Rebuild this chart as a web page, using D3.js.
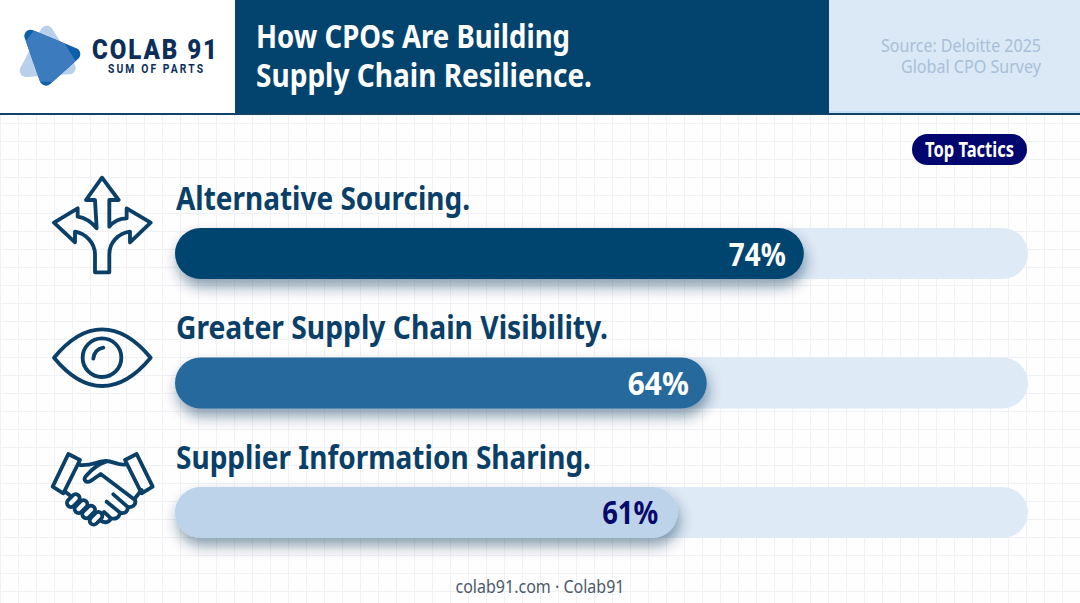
<!DOCTYPE html>
<html><head><meta charset="utf-8">
<script src="https://cdn.jsdelivr.net/npm/d3@7/dist/d3.min.js"></script>
<style>html,body{margin:0;padding:0;background:#fff}svg{display:block}text{font-family:"Noto Sans",sans-serif}</style>
</head><body><div id="c"></div>
<script>
const categories=["Alternative Sourcing.","Greater Supply Chain Visibility.","Supplier Information Sharing."];
const values=[74,64,61];
const valueLabels=["74%","64%","61%"];
const barColors=["#03446f","#266a9d","#bcd3ea"];
const labelColors=["#ffffff","#ffffff","#07096b"];
const titleLines=["How CPOs Are Building","Supply Chain Resilience."];
const sourceLines=["Source: Deloitte 2025","Global CPO Survey"];
const domainStart=9.2, domainEnd=97.1;

const W=1080,H=603;
const svg=d3.select("#c").append("svg").attr("width",W).attr("height",H).attr("viewBox",`0 0 ${W} ${H}`);
const defs=svg.append("defs");
const sh=defs.append("filter").attr("id","sh").attr("x","-10%").attr("y","-50%").attr("width","120%").attr("height","220%");
sh.append("feDropShadow").attr("dx",2).attr("dy",8).attr("stdDeviation",7).attr("flood-color","#0b2f55").attr("flood-opacity",0.45);

// background + grid
svg.append("rect").attr("width",W).attr("height",H).attr("fill","#fefefe");
const grid=svg.append("g").attr("stroke","#f0f1f4").attr("stroke-width",1);
d3.range(0,W,18).forEach(x=>grid.append("line").attr("x1",x+.5).attr("x2",x+.5).attr("y1",115).attr("y2",H));
d3.range(123,H,18).forEach(y=>grid.append("line").attr("y1",y+.5).attr("y2",y+.5).attr("x1",0).attr("x2",W));

// header
svg.append("rect").attr("width",235).attr("height",113).attr("fill","#fff");
svg.append("rect").attr("x",235).attr("width",594).attr("height",113).attr("fill","#03446f");
svg.append("rect").attr("x",829).attr("width",251).attr("height",113).attr("fill","#dbe8f6");
svg.append("rect").attr("x",829).attr("y",111).attr("width",251).attr("height",2).attr("fill","#c4e0f5");
svg.append("rect").attr("y",113).attr("width",W).attr("height",2).attr("fill","#0f4468");

// logo
const logo=svg.append("g").attr("transform","scale(0.3333)");
logo.append("path").attr("d","M140 96L78 212L208 204Z").attr("fill","#b9d0ea").attr("stroke","#b9d0ea").attr("stroke-width",38).attr("stroke-linejoin","round");
const main="M92 108L222 162L138 238Z";
const lsw=38;
const mask=defs.append("mask").attr("id","lm").attr("maskUnits","userSpaceOnUse").attr("x",0).attr("y",0).attr("width",400).attr("height",400);
mask.append("path").attr("d",main).attr("fill","#fff").attr("stroke","#fff").attr("stroke-width",lsw).attr("stroke-linejoin","round");
logo.append("path").attr("d",main).attr("fill","#0d60a8").attr("stroke","#0d60a8").attr("stroke-width",lsw).attr("stroke-linejoin","round");
logo.append("path").attr("d","M108 84L178 104L228 185L165 245L112 245L78 122Z").attr("fill","#3c7cbe").attr("mask","url(#lm)");
const sx=0.86;
svg.append("text").attr("transform",`translate(92,59) scale(${sx},1)`).attr("font-size",28).attr("font-weight",900).attr("fill","#0c2f5a").attr("textLength",125/sx).attr("lengthAdjust","spacing").style("font-family","Roboto").text("COLAB 91");
svg.append("text").attr("transform",`translate(108,73) scale(${sx},1)`).attr("font-size",12).attr("font-weight",700).attr("fill","#0c2f5a").attr("textLength",95/sx).attr("lengthAdjust","spacing").style("font-family","Roboto").text("SUM OF PARTS");

// title and source
const titleW=[314,336];
titleLines.forEach((t,i)=>svg.append("text").attr("x",256).attr("y",48+i*39).attr("font-size",33).attr("font-weight",700).attr("fill","#fff").attr("textLength",titleW[i]).attr("lengthAdjust","spacingAndGlyphs").text(t));
const srcW=[160,140];
sourceLines.forEach((t,i)=>svg.append("text").attr("x",1041-srcW[i]).attr("y",52+i*21).attr("font-size",18).attr("fill","#a9bfd9").attr("textLength",srcW[i]).attr("lengthAdjust","spacingAndGlyphs").text(t));

// pill
svg.append("rect").attr("x",912).attr("y",134).attr("width",115).attr("height",31).attr("rx",15.5).attr("fill","#02066f");
svg.append("text").attr("x",925).attr("y",157).attr("font-size",21).attr("font-weight",700).attr("fill","#fff").attr("textLength",89).attr("lengthAdjust","spacingAndGlyphs").text("Top Tactics");

// chart
const x=d3.scaleLinear().domain([domainStart,domainEnd]).range([175,1028]);
const y=d3.scaleBand().domain(categories).range([228,538]).paddingInner(0.606).paddingOuter(0);
const rows=svg.append("g").selectAll("g").data(categories).join("g").attr("transform",d=>`translate(0,${y(d)})`);
const bw=y.bandwidth();
const catW=[294,432,415];
const valW=[57,61,56];
rows.append("text").attr("x",176).attr("y",-18).attr("font-size",33).attr("font-weight",700).attr("fill","#0a3f68").attr("textLength",(d,i)=>catW[i]).attr("lengthAdjust","spacingAndGlyphs").text(d=>d);
rows.append("rect").attr("x",x(domainStart)).attr("width",x(domainEnd)-x(domainStart)).attr("height",bw).attr("rx",bw/2).attr("fill","#deeaf6");
rows.append("rect").attr("x",x(domainStart)).attr("width",(d,i)=>x(values[i])-x(domainStart)).attr("height",bw).attr("rx",bw/2).attr("fill",(d,i)=>barColors[i]).attr("filter","url(#sh)");
rows.append("text").attr("x",(d,i)=>x(values[i])-18-(i==2?1.5:0)).attr("y",bw/2+12).attr("text-anchor","end").attr("font-size",32).attr("font-weight",700).attr("fill",(d,i)=>labelColors[i]).attr("textLength",(d,i)=>valW[i]).attr("lengthAdjust","spacingAndGlyphs").text((d,i)=>valueLabels[i]);

// footer
svg.append("text").attr("x",540).attr("y",593).attr("text-anchor","middle").attr("font-size",18).attr("fill","#4c5a68").attr("textLength",169).attr("lengthAdjust","spacingAndGlyphs").text("colab91.com · Colab91");

// icons
const ic="#0a3f68";
function icon(ox,oy){return svg.append("g").attr("transform",`translate(${ox},${oy}) scale(0.3333)`).attr("fill","none").attr("stroke",ic).attr("stroke-width",11.5).attr("stroke-linejoin","round").attr("stroke-linecap","round");}
icon(30,165).append("path").attr("d","M195 322L195 268C195 232 165 205 135 200L135 232L72 173L143 130L143 155C165 158 185 172 200 190L195 105L168 105L216 38L266 105L238 105L238 185C250 170 270 160 290 160L290 130L362 173L300 232L300 200C265 205 238 232 238 268L238 322Z");
const eye=icon(30,310);
eye.append("path").attr("d","M72 143C120 85 165 58 216 58C267 58 314 85 362 143C314 201 267 228 216 228C165 228 120 201 72 143Z");
eye.append("circle").attr("cx",216).attr("cy",143).attr("r",58);
eye.append("path").attr("d","M190 146C192 128 204 116 220 113");
const hs=icon(30,310);
hs.append("path").attr("d","M115 432L150 450L100 550L68 530Z");
hs.append("path").attr("d","M320 432L285 450L335 550L368 530Z");
hs.append("path").attr("d","M150 465C185 468 205 453 228 453C250 453 265 468 287 463");
hs.append("path").attr("d","M228 455C205 462 185 478 168 498C158 510 168 520 182 513L212 492L315 570C320 585 305 595 292 590L250 553M292 590C296 605 285 612 270 608L230 575M270 608C268 625 255 628 243 625L222 606M243 625C238 638 225 640 212 632");
hs.append("path").attr("d","M335 540L315 565M106 545L122 558");
[[130,572],[153,590],[176,606],[198,625]].forEach(c=>hs.append("rect").attr("x",-22).attr("y",-12).attr("width",44).attr("height",24).attr("rx",12).attr("transform",`translate(${c[0]},${c[1]}) rotate(-45) `));
</script></body></html>
